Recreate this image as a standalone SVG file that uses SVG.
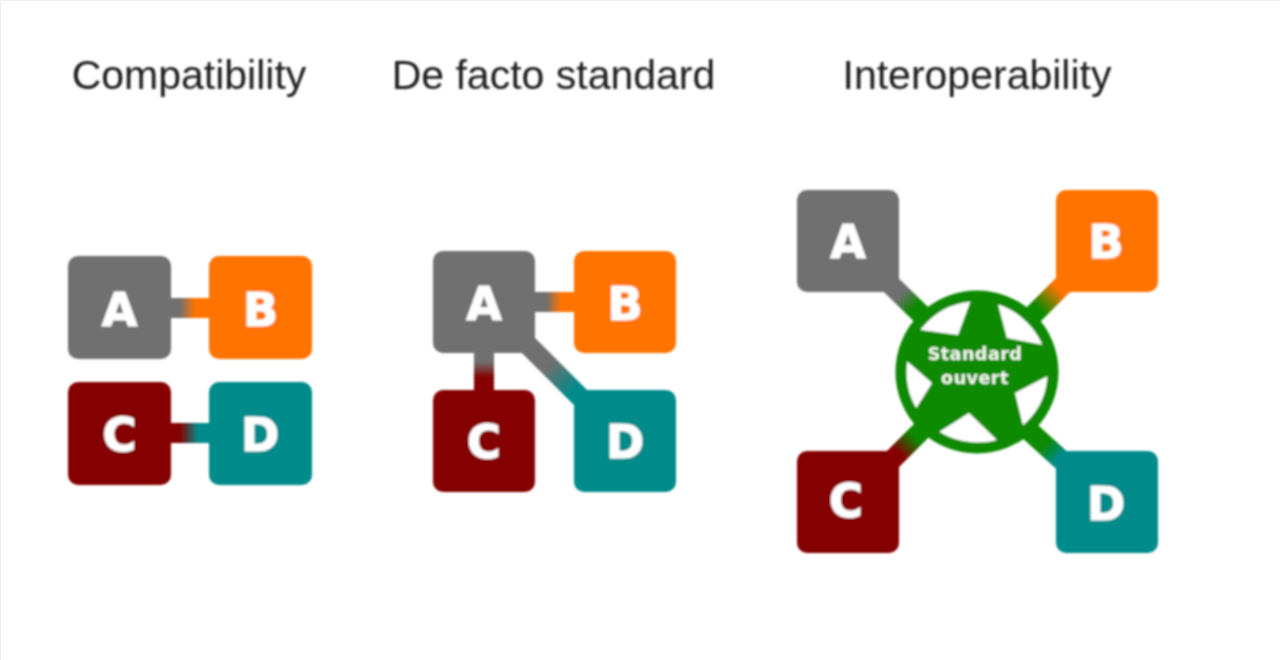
<svg xmlns="http://www.w3.org/2000/svg" width="1280" height="660" viewBox="0 0 1280 660">
<style>
.title{font-family:"Liberation Sans",Arial,sans-serif;font-size:41px;fill:#1c1c1c;text-anchor:middle}
.l{font-family:"DejaVu Sans",sans-serif;font-weight:bold;font-size:46px;fill:#fff;stroke:#fff;stroke-width:1.1px;text-anchor:middle}
.a{fill:#6f6f6f}.b{fill:#ff7300}.c{fill:#850000}.d{fill:#008b8b}
.std{font-family:"DejaVu Sans",sans-serif;font-weight:bold;font-size:17.5px;fill:#f2f8ee;text-anchor:middle;letter-spacing:.5px}
</style>
<defs>
<filter id="soft" x="-2%" y="-2%" width="104%" height="104%"><feGaussianBlur stdDeviation="0.8"/></filter>
<linearGradient id="g1" gradientUnits="userSpaceOnUse" x1="180" y1="0" x2="195" y2="0"><stop offset="0" stop-color="#6f6f6f"/><stop offset="1" stop-color="#ff7300"/></linearGradient>
<linearGradient id="g2" gradientUnits="userSpaceOnUse" x1="180" y1="0" x2="198" y2="0"><stop offset="0" stop-color="#850000"/><stop offset="1" stop-color="#008b8b"/></linearGradient>
<linearGradient id="g3" gradientUnits="userSpaceOnUse" x1="546" y1="0" x2="561" y2="0"><stop offset="0" stop-color="#6f6f6f"/><stop offset="1" stop-color="#ff7300"/></linearGradient>
<linearGradient id="g4" gradientUnits="userSpaceOnUse" x1="0" y1="362" x2="0" y2="378"><stop offset="0" stop-color="#6f6f6f"/><stop offset="1" stop-color="#850000"/></linearGradient>
<linearGradient id="g5" gradientUnits="userSpaceOnUse" x1="552" y1="362" x2="578" y2="388"><stop offset="0" stop-color="#6f6f6f"/><stop offset="1" stop-color="#008b8b"/></linearGradient>
<linearGradient id="g6" gradientUnits="userSpaceOnUse" x1="903" y1="292" x2="917" y2="305"><stop offset="0" stop-color="#6f6f6f"/><stop offset="1" stop-color="#0a8a00"/></linearGradient>
<linearGradient id="g7" gradientUnits="userSpaceOnUse" x1="1057" y1="287" x2="1037" y2="307"><stop offset="0" stop-color="#ff7300"/><stop offset="1" stop-color="#0a8a00"/></linearGradient>
<linearGradient id="g8" gradientUnits="userSpaceOnUse" x1="897" y1="452" x2="913" y2="435"><stop offset="0" stop-color="#850000"/><stop offset="1" stop-color="#0a8a00"/></linearGradient>
<linearGradient id="g9" gradientUnits="userSpaceOnUse" x1="1060" y1="458" x2="1045" y2="443"><stop offset="0" stop-color="#008b8b"/><stop offset="1" stop-color="#0a8a00"/></linearGradient>
<clipPath id="ringClip"><circle cx="977" cy="372" r="76"/></clipPath>
</defs>
<rect width="1280" height="660" fill="#fff"/>
<path d="M0.5 660V0.5H1280" fill="none" stroke="#eeeeee"/>
<g filter="url(#soft)">
<g id="titles">
<text class="title" x="189" y="89">Compatibility</text>
<text class="title" x="553.500" y="89">De facto standard</text>
<text class="title" x="977" y="89">Interoperability</text>
</g>
<g id="connectors" fill="none" stroke-width="20">
<path d="M165 308H215" stroke="url(#g1)"/>
<path d="M165 433H215" stroke="url(#g2)"/>
<path d="M530 302H580" stroke="url(#g3)"/>
<path d="M484 347V396" stroke="url(#g4)"/>
<path d="M525 342L585 402" stroke="url(#g5)"/>
<path d="M886 280L930 323" stroke="url(#g6)"/>
<path d="M1068 280L1024 324" stroke="url(#g7)"/>
<path d="M888 464L930 422" stroke="url(#g8)"/>
<path d="M1068 466L1024 426" stroke="url(#g9)"/>
</g>
<g id="p1-a"><rect class="a" x="68" y="256" width="103" height="103" rx="10"/><text class="l" x="119.500" y="326">A</text></g>
<g id="p1-b"><rect class="b" x="209" y="256" width="103" height="103" rx="10"/><text class="l" x="260.500" y="326">B</text></g>
<g id="p1-c"><rect class="c" x="68" y="382" width="103" height="103" rx="10"/><text class="l" x="119.500" y="451">C</text></g>
<g id="p1-d"><rect class="d" x="209" y="382" width="103" height="103" rx="10"/><text class="l" x="260" y="451">D</text></g>
<g id="p2-a"><rect class="a" x="433" y="251" width="102" height="102" rx="10"/><text class="l" x="484" y="320">A</text></g>
<g id="p2-b"><rect class="b" x="574" y="251" width="102" height="102" rx="10"/><text class="l" x="625" y="320">B</text></g>
<g id="p2-c"><rect class="c" x="433" y="390" width="102" height="102" rx="10"/><text class="l" x="484" y="458">C</text></g>
<g id="p2-d"><rect class="d" x="574" y="390" width="102" height="102" rx="10"/><text class="l" x="625" y="458">D</text></g>
<g id="p3-a"><rect class="a" x="797" y="190" width="102" height="102" rx="10"/><text class="l" x="848" y="258">A</text></g>
<g id="p3-b"><rect class="b" x="1056" y="190" width="102" height="102" rx="10"/><text class="l" x="1106" y="258">B</text></g>
<g id="p3-c"><rect class="c" x="797" y="451" width="102" height="102" rx="10"/><text class="l" x="846" y="517">C</text></g>
<g id="p3-d"><rect class="d" x="1056" y="451" width="102" height="102" rx="10"/><text class="l" x="1106" y="520">D</text></g>
<g id="standard">
<circle cx="977" cy="372" r="76" fill="#fff" stroke="#0a8a00" stroke-width="11"/>
<polygon clip-path="url(#ringClip)" fill="#0a8a00" points="986,259 1007,338 1090,354 1015,393 1036,478 969,413 876,472 932,383 862,322 958,335"/>
<text class="std" x="975" y="360">Standard</text>
<text class="std" x="975" y="384">ouvert</text>
</g>
</g>
</svg>
